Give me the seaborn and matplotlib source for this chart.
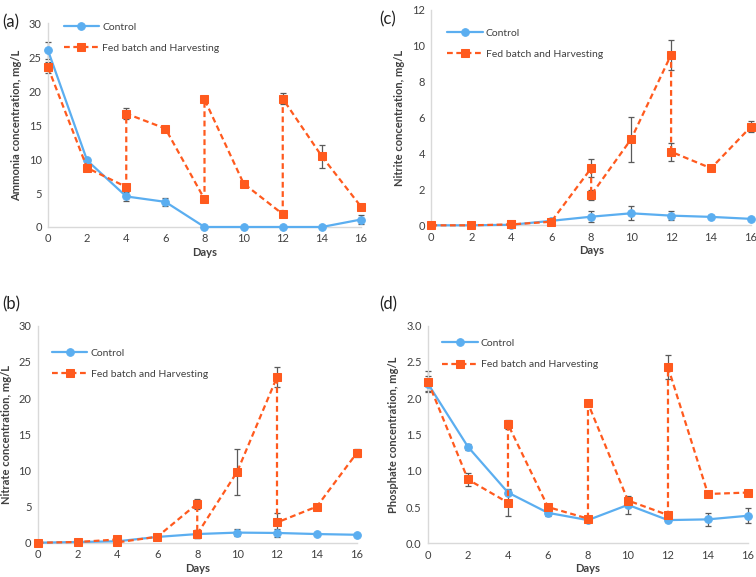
import matplotlib
matplotlib.use("Agg")
import matplotlib.pyplot as plt
import seaborn as sns
import numpy as np

# sampling days
days = [0, 2, 4, 6, 8, 10, 12, 14, 16]
# fed batch series has two readings on feed/harvest days (before and after)
days_fed = [0, 2, 4, 4, 6, 8, 8, 10, 12, 12, 14, 16]

# (a) ammonia
nh4_ctrl = [26.0, 9.8, 4.5, 3.7, 0.0, 0.0, 0.0, 0.0, 1.1]
nh4_ctrl_err = [1.2, 0.2, 0.6, 0.6, 0.05, 0.05, 0.05, 0.05, 0.6]
nh4_fed = [23.5, 8.7, 5.9, 16.7, 14.5, 4.1, 18.8, 6.4, 1.9, 18.9, 10.4, 3.0]
nh4_fed_err = [0.8, 0.3, 0.5, 0.8, 0.2, 0.2, 0.3, 0.2, 0.2, 0.8, 1.7, 0.2]

# (b) nitrate
no3_ctrl = [0.0, 0.1, 0.2, 0.8, 1.2, 1.4, 1.35, 1.2, 1.1]
no3_ctrl_err = [0.05, 0.05, 0.05, 0.1, 0.5, 0.5, 0.5, 0.1, 0.1]
no3_fed = [0.0, 0.1, 0.45, 0.05, 0.83, 5.4, 1.2, 9.8, 22.9, 2.8, 5.0, 12.4]
no3_fed_err = [0.05, 0.05, 0.1, 0.1, 0.1, 0.7, 0.6, 3.2, 1.4, 1.3, 0.2, 0.6]

# (c) nitrite
no2_ctrl = [0.0, 0.0, 0.03, 0.25, 0.48, 0.67, 0.54, 0.47, 0.36]
no2_ctrl_err = [0.02, 0.02, 0.02, 0.05, 0.3, 0.4, 0.25, 0.08, 0.04]
no2_fed = [0.0, 0.0, 0.05, 0.05, 0.2, 3.18, 1.69, 4.8, 9.5, 4.1, 3.18, 5.5]
no2_fed_err = [0.02, 0.02, 0.02, 0.02, 0.05, 0.5, 0.3, 1.25, 0.85, 0.5, 0.05, 0.3]

# (d) phosphate
po4_ctrl = [2.2, 1.33, 0.7, 0.42, 0.32, 0.53, 0.32, 0.33, 0.38]
po4_ctrl_err = [0.1, 0.04, 0.03, 0.05, 0.03, 0.12, 0.03, 0.09, 0.1]
po4_fed = [2.23, 0.88, 0.56, 1.64, 0.5, 0.34, 1.93, 0.59, 0.39, 2.43, 0.68, 0.70]
po4_fed_err = [0.15, 0.09, 0.19, 0.06, 0.03, 0.03, 0.04, 0.05, 0.02, 0.17, 0.02, 0.02]

sns.set_style("white")
plt.rcParams["font.family"] = ["Lato", "DejaVu Sans"]

C_CTRL = "#5BAEF0"
C_FED = "#FF5A1E"
C_ERR = "#5a5a5a"
C_TXT = "#404040"

fig = plt.figure(figsize=(7.56, 5.77), dpi=100)

panels = [
    # label, rect, ctrl, ctrl_err, fed, fed_err, ylabel, ymax, ystep, fmt, legend anchor, label pos
    ("(a)", [0.0635, 0.6066, 0.414, 0.353], nh4_ctrl, nh4_ctrl_err, nh4_fed, nh4_fed_err,
     "Ammonia concentration, mg/L", 30, 5, "{:.0f}", (0.05, 1.005), (0.003, 0.975)),
    ("(c)", [0.5705, 0.6095, 0.4229, 0.3732], no2_ctrl, no2_ctrl_err, no2_fed, no2_fed_err,
     "Nitrite concentration, mg/L", 12, 2, "{:.0f}", (0.05, 0.915), (0.502, 0.98)),
    ("(b)", [0.0499, 0.0594, 0.422, 0.376], no3_ctrl, no3_ctrl_err, no3_fed, no3_fed_err,
     "Nitrate concentration, mg/L", 30, 5, "{:.0f}", (0.045, 0.895), (0.003, 0.487)),
    ("(d)", [0.5661, 0.0584, 0.4233, 0.3771], po4_ctrl, po4_ctrl_err, po4_fed, po4_fed_err,
     "Phosphate concentration, mg/L", 3.0, 0.5, "{:.1f}", (0.045, 0.94), (0.502, 0.487)),
]

for lab, rect, ctrl, cerr, fed, ferr, ylab, ymax, ystep, fmt, lanchor, lpos in panels:
    ax = fig.add_axes(rect)
    sns.lineplot(x=days, y=ctrl, ax=ax, color=C_CTRL, lw=1.6, marker="o", ms=5.5,
                 markeredgecolor=C_CTRL, label="Control", estimator=None, sort=False,
                 clip_on=False, zorder=3)
    sns.lineplot(x=days_fed, y=fed, ax=ax, color=C_FED, lw=1.6, marker="s", ms=5.5,
                 markeredgecolor=C_FED, label="Fed batch and Harvesting", estimator=None,
                 sort=False, clip_on=False, zorder=3)
    ax.lines[1].set_dashes((2.6, 1.6))
    ax.errorbar(days, ctrl, yerr=cerr, fmt="none", ecolor=C_ERR, elinewidth=0.9,
                capsize=2, capthick=0.9, zorder=2.5, clip_on=False)
    ax.errorbar(days_fed, fed, yerr=ferr, fmt="none", ecolor=C_ERR, elinewidth=0.9,
                capsize=2, capthick=0.9, zorder=2.5, clip_on=False)

    ax.set_xlim(0, 16)
    ax.set_ylim(0, ymax)
    ax.set_xticks(days)
    yt = np.arange(0, ymax + ystep / 2, ystep)
    ax.set_yticks(yt)
    ax.set_yticklabels([fmt.format(v) for v in yt])
    ax.tick_params(axis="both", length=0, labelsize=8, colors=C_TXT, pad=4.5)
    for s in ["top", "right"]:
        ax.spines[s].set_visible(False)
    for s in ["left", "bottom"]:
        ax.spines[s].set_color("#d9d9d9")
        ax.spines[s].set_linewidth(1.0)
    ax.set_xlabel("Days", fontsize=8, fontweight="bold", color=C_TXT, labelpad=2)
    ax.set_ylabel(ylab, fontsize=8, fontweight="bold", color=C_TXT, labelpad=5)

    leg = ax.legend(loc="upper left", bbox_to_anchor=lanchor, frameon=False,
                    fontsize=7.5, handlelength=3.4, labelspacing=1.15, borderpad=0,
                    borderaxespad=0, handletextpad=0.3)
    for t in leg.get_texts():
        t.set_color(C_TXT)

    fig.text(lpos[0], lpos[1], lab, fontsize=12, color="#222222", va="top", ha="left")

fig.savefig("out.png", dpi=100)
